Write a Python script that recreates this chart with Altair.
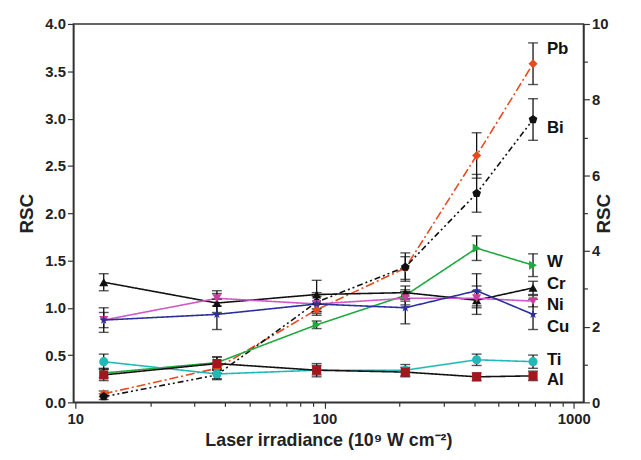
import altair as alt
import pandas as pd

irradiance = [13, 37, 93, 211, 408, 687]
elements = ["Pb", "Bi", "W", "Cr", "Ni", "Cu", "Ti", "Al"]
rsc = {
    "Pb": [0.09, 0.36, 0.98, 1.42, 2.61, 3.58],
    "Bi": [0.06, 0.29, 1.06, 1.43, 2.21, 2.99],
    "W":  [0.31, 0.42, 0.82, 1.13, 1.63, 1.45],
    "Cr": [1.27, 1.05, 1.14, 1.16, 1.08, 1.21],
    "Ni": [0.87, 1.10, 1.04, 1.10, 1.10, 1.07],
    "Cu": [0.87, 0.93, 1.04, 1.00, 1.18, 0.93],
    "Ti": [0.43, 0.30, 0.34, 0.34, 0.45, 0.43],
    "Al": [0.29, 0.41, 0.34, 0.32, 0.27, 0.28],
}
err = {
    "Pb": [0.03, 0.05, 0.06, 0.12, 0.24, 0.22],
    "Bi": [0.03, 0.05, 0.10, 0.15, 0.20, 0.22],
    "W":  [0.05, 0.06, 0.04, 0.06, 0.13, 0.12],
    "Cr": [0.09, 0.10, 0.15, 0.07, 0.15, 0.07],
    "Ni": [0.08, 0.08, 0.08, 0.07, 0.08, 0.06],
    "Cu": [0.13, 0.16, 0.10, 0.17, 0.18, 0.16],
    "Ti": [0.08, 0.05, 0.07, 0.06, 0.06, 0.07],
    "Al": [0.06, 0.07, 0.05, 0.05, 0.04, 0.05],
}
label_y = [3.74, 2.90, 1.48, 1.25, 1.03, 0.80, 0.45, 0.24]
right_ticks = [0, 10]

line_colors = ["#e8491d", "#111111", "#1faa3f", "#111111", "#d058c8", "#2b2f9e", "#22b8b8", "#111111"]
point_colors = ["#e8491d", "#111111", "#1faa3f", "#111111", "#c8409a", "#2b2f9e", "#22b8b8", "#a3161e"]
dashes = [[9, 3, 2, 3], [6, 3, 2, 3, 2, 3], [1, 0], [1, 0], [1, 0], [1, 0], [1, 0], [1, 0]]
pentagon = "M0,-1L0.951,-0.309L0.588,0.809L-0.588,0.809L-0.951,-0.309Z"
star = ("M0,-1L0.235,-0.324L0.951,-0.309L0.380,0.124L0.588,0.809L0,0.4"
        "L-0.588,0.809L-0.380,0.124L-0.951,-0.309L-0.235,-0.324Z")
shapes = ["diamond", pentagon, "triangle-right", "triangle-up", "triangle-down", star, "circle", "square"]

rows = []
for el in elements:
    for xv, yv, ev in zip(irradiance, rsc[el], err[el]):
        rows.append({"el": el, "x": xv, "y": yv, "lo": yv - ev, "hi": yv + ev})
df = pd.DataFrame(rows)
lab = pd.DataFrame({"el": elements, "x": [irradiance[-1]] * len(elements), "y": label_y})

FONT = "Liberation Sans"
xscale = alt.Scale(type="log", domain=[9.82, 1095], nice=False)
yscale = alt.Scale(domain=[0, 4], nice=False)

xticks = [10, 20, 30, 40, 50, 60, 70, 80, 90, 100, 200, 300, 400, 500, 600, 700, 800, 900, 1000]
xaxis = alt.Axis(
    values=xticks, title="Laser irradiance (10\u2079 W cm\u207b\u00b2)", format="d",
    labelExpr="(datum.value==10||datum.value==100||datum.value==1000) ? datum.label : ''",
    tickSize=alt.condition("datum.value==10||datum.value==100||datum.value==1000", alt.value(6), alt.value(4)),
    grid=False, labelFont=FONT, labelFontSize=15, labelFontWeight="bold", labelColor="#222",
    titleFont=FONT, titleFontSize=18, titleFontWeight="bold", titleColor="#222",
    domainColor="#333", tickColor="#333", domainWidth=1.5, tickWidth=1.2, labelPadding=3, titlePadding=6,
)
yvals = [i * 0.25 for i in range(17)]
yaxis = alt.Axis(
    values=yvals, title="RSC", format=".1f",
    labelExpr="round(datum.value*2)==datum.value*2 ? datum.label : ''",
    tickSize=alt.condition("round(datum.value*2)==datum.value*2", alt.value(6), alt.value(4)),
    grid=False, labelFont=FONT, labelFontSize=15, labelFontWeight="bold", labelColor="#222",
    titleFont=FONT, titleFontSize=19, titleFontWeight="bold", titleColor="#222",
    domainColor="#333", tickColor="#333", domainWidth=1.5, tickWidth=1.2, titlePadding=8,
)

X = alt.X("x:Q", scale=xscale, axis=xaxis)
Y = alt.Y("y:Q", scale=yscale, axis=yaxis)

base = alt.Chart(df)
lines = base.mark_line(strokeWidth=1.6).encode(
    x=X, y=Y,
    color=alt.Color("el:N", scale=alt.Scale(domain=elements, range=line_colors), legend=None),
    strokeDash=alt.StrokeDash("el:N", scale=alt.Scale(domain=elements, range=dashes), legend=None),
    detail="el:N",
)
bars = base.mark_rule(color="#111", strokeWidth=1.3).encode(x=X, y="lo:Q", y2="hi:Q")
cap_lo = base.mark_tick(color="#111", orient="horizontal", size=10, thickness=1.4).encode(x=X, y="lo:Q")
cap_hi = base.mark_tick(color="#111", orient="horizontal", size=10, thickness=1.4).encode(x=X, y="hi:Q")
points = base.mark_point(filled=True, size=85, opacity=1).encode(
    x=X, y=Y,
    color=alt.Color("el:N", scale=alt.Scale(domain=elements, range=point_colors), legend=None),
    shape=alt.Shape("el:N", scale=alt.Scale(domain=elements, range=shapes), legend=None),
)
labels = alt.Chart(lab).mark_text(
    align="left", baseline="middle", dx=14, font=FONT, fontSize=17, fontWeight="bold", color="#111"
).encode(x=X, y="y:Q", text="el:N")

inner = alt.layer(lines, bars, cap_lo, cap_hi, points, labels).resolve_scale(color="independent")

rdf = pd.DataFrame({"r": right_ticks})
right = alt.Chart(rdf).mark_point(opacity=0).encode(
    x=alt.value(0),
    y=alt.Y("r:Q", scale=alt.Scale(domain=[0, 10], nice=False),
            axis=alt.Axis(
                orient="right", title="RSC", values=list(range(11)),
                labelExpr="datum.value % 2 == 0 ? datum.label : ''",
                tickSize=alt.condition("datum.value % 2 == 0", alt.value(6), alt.value(4)),
                titleAngle=270, grid=False,
                labelFont=FONT, labelFontSize=15, labelFontWeight="bold", labelColor="#222",
                titleFont=FONT, titleFontSize=19, titleFontWeight="bold", titleColor="#222",
                domainColor="#333", tickColor="#333", domainWidth=1.5, tickWidth=1.2, titlePadding=6,
            )),
)

chart = alt.layer(inner, right).resolve_scale(y="independent").properties(
    width=515, height=382,
    autosize=alt.AutoSizeParams(type="none"),
    padding={"left": 66, "top": 14, "right": 50, "bottom": 50},
    background="white",
).configure_view(stroke="#333", strokeWidth=1.5)

chart.save("out.html", embed_options={"renderer": "svg", "actions": False})
